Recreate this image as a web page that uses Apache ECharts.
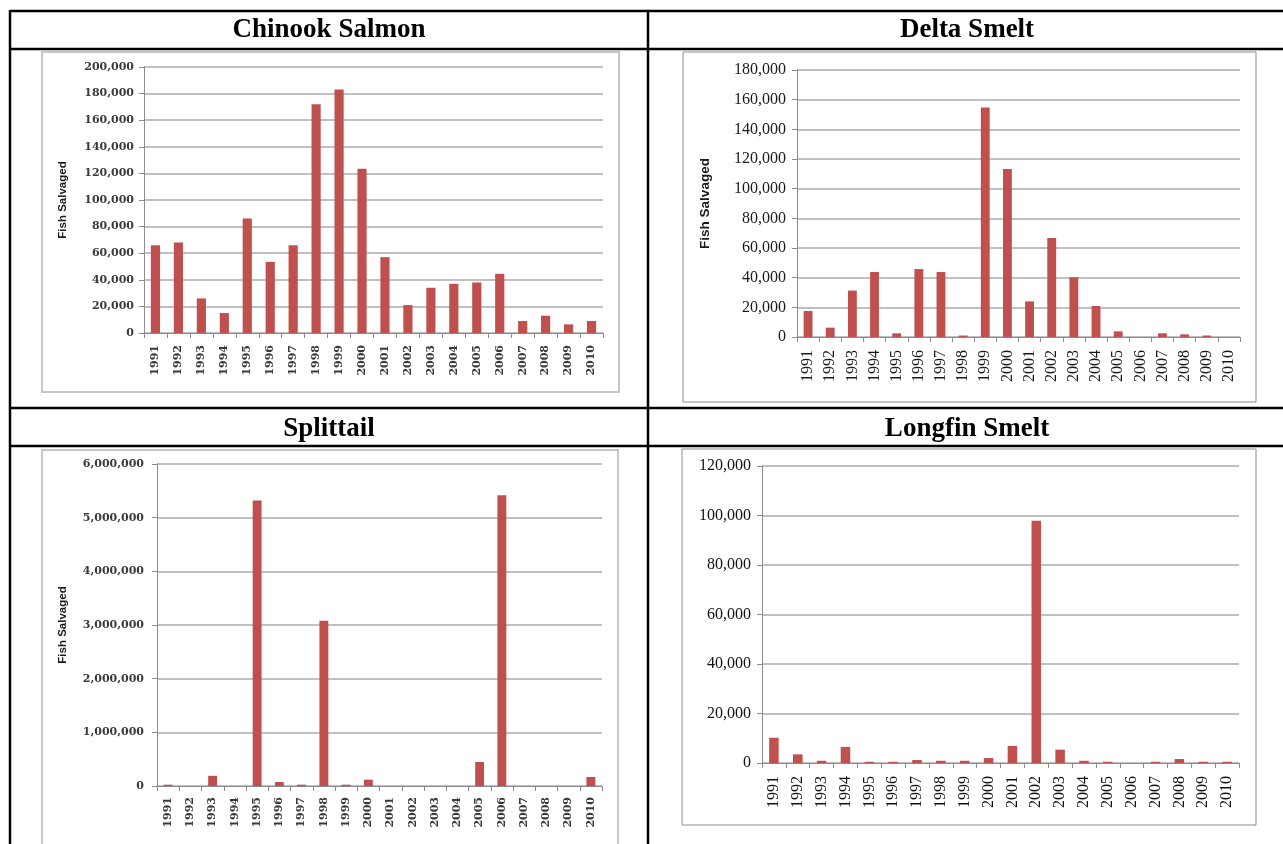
<!DOCTYPE html>
<html>
<head>
<meta charset="utf-8">
<title>Fish Salvaged, 1991–2010</title>
<script src="https://cdn.jsdelivr.net/npm/echarts@6/dist/echarts.min.js"></script>
<style>
  html, body { margin: 0; padding: 0; background: #ffffff; }
  #chart { width: 1283px; height: 844px; }
</style>
</head>
<body>
<div id="chart"></div>
<script>
// Salvage years shared by all four panels
const years = ['1991', '1992', '1993', '1994', '1995', '1996', '1997', '1998', '1999', '2000',
               '2001', '2002', '2003', '2004', '2005', '2006', '2007', '2008', '2009', '2010'];

// Fish salvaged per year, one list per species
const chinookSalvage    = [66000, 68000, 26000, 15000, 86000, 53500, 66000, 172000, 183000, 123500,
                           57000, 21000, 34000, 37000, 38000, 44500, 9000, 13000, 6500, 9000];
const deltaSmeltSalvage = [17500, 6300, 31300, 43800, 2500, 45800, 43800, 1000, 154800, 113200,
                           24000, 66800, 40300, 20900, 3800, 0, 2500, 1800, 1000, 0];
const splittailSalvage  = [25000, 0, 190000, 0, 5320000, 75000, 25000, 3080000, 25000, 118000,
                           0, 0, 0, 0, 448000, 5420000, 0, 0, 0, 168000];
const longfinSalvage    = [10200, 3500, 900, 6500, 500, 500, 1200, 900, 900, 2000,
                           6900, 97900, 5400, 900, 500, 0, 500, 1600, 500, 500];

// Panel titles and value-axis ranges
const speciesNames = ['Chinook Salmon', 'Delta Smelt', 'Splittail', 'Longfin Smelt'];
const speciesValues = [chinookSalvage, deltaSmeltSalvage, splittailSalvage, longfinSalvage];
const axisMax = [200000, 180000, 6000000, 120000];
const axisStep = [20000, 20000, 1000000, 20000];
const axisTitle = ['Fish Salvaged', 'Fish Salvaged', 'Fish Salvaged', ''];

// Page layout: table cells, chart frames and plot areas (pixels)
const layout = [
  { header: [329, 30],  frame: [42, 52, 577, 340],  frameColor: '#c6c6c6', frameWidth: 2,
    grid: { left: 144, top: 67, width: 459, height: 266 },
    font: { family: 'DejaVu Serif', size: 11, weight: 'bold', color: '#3a3a3a' },
    nameSize: 11.5, nameGap: 75, yMargin: 10, xMargin: 12 },
  { header: [967, 30],  frame: [683, 52, 573, 350], frameColor: '#8c8c8c', frameWidth: 1,
    grid: { left: 797, top: 70, width: 443, height: 267 },
    font: { family: 'Liberation Serif', size: 16, weight: 'normal', color: '#1a1a1a' },
    nameSize: 13.5, nameGap: 85, yMargin: 11, xMargin: 13 },
  { header: [329, 429], frame: [42, 450, 576, 410], frameColor: '#c6c6c6', frameWidth: 2,
    grid: { left: 157, top: 464, width: 445, height: 322 },
    font: { family: 'DejaVu Serif', size: 11, weight: 'bold', color: '#3a3a3a' },
    nameSize: 11.5, nameGap: 88, yMargin: 13, xMargin: 11 },
  { header: [967, 429], frame: [682, 449, 574, 376], frameColor: '#8c8c8c', frameWidth: 1,
    grid: { left: 762, top: 466, width: 477, height: 297 },
    font: { family: 'Liberation Serif', size: 16, weight: 'normal', color: '#111111' },
    nameSize: 12, nameGap: 80, yMargin: 11, xMargin: 13 }
];

const withCommas = v => Number(v).toLocaleString('en-US');

const grids = [], xAxes = [], yAxes = [], series = [], graphics = [];

// Table rules around the four cells
const rule = (x1, y1, x2, y2) => ({
  type: 'line', silent: true, z: 10,
  shape: { x1, y1, x2, y2 },
  style: { stroke: '#000000', lineWidth: 2.5 }
});
graphics.push(rule(10, 11, 1290, 11));
graphics.push(rule(10, 49, 1290, 49));
graphics.push(rule(10, 408, 1290, 408));
graphics.push(rule(10, 446, 1290, 446));
graphics.push(rule(10, 10, 10, 850));
graphics.push(rule(648, 10, 648, 850));

speciesNames.forEach((name, i) => {
  const L = layout[i];

  // Cell heading
  graphics.push({
    type: 'text', silent: true, z: 10,
    style: {
      text: name, x: L.header[0], y: L.header[1],
      textAlign: 'center', textVerticalAlign: 'middle',
      font: 'bold 27px "Liberation Serif", serif', fill: '#000000'
    }
  });

  // Chart frame
  graphics.push({
    type: 'rect', silent: true, z: 1,
    shape: { x: L.frame[0], y: L.frame[1], width: L.frame[2], height: L.frame[3] },
    style: { fill: 'transparent', stroke: L.frameColor, lineWidth: L.frameWidth }
  });

  grids.push(Object.assign({ containLabel: false }, L.grid));

  const labelStyle = {
    fontFamily: L.font.family, fontSize: L.font.size,
    fontWeight: L.font.weight, color: L.font.color
  };

  xAxes.push({
    type: 'category', gridIndex: i, data: years,
    axisLine: { show: true, lineStyle: { color: '#8c8c8c', width: 1 } },
    axisTick: { show: true, length: 5, lineStyle: { color: '#8c8c8c' } },
    axisLabel: Object.assign({ rotate: 90, margin: L.xMargin, interval: 0 }, labelStyle),
    splitLine: { show: false }
  });

  yAxes.push({
    type: 'value', gridIndex: i, min: 0, max: axisMax[i], interval: axisStep[i],
    name: axisTitle[i], nameLocation: 'middle', nameGap: L.nameGap, nameRotate: 90,
    nameTextStyle: {
      fontFamily: '"Liberation Sans", Arial, sans-serif', fontWeight: 'bold',
      fontSize: L.nameSize, color: '#1a1a1a'
    },
    axisLine: { show: true, lineStyle: { color: '#8c8c8c', width: 1 } },
    axisTick: { show: true, length: 5, lineStyle: { color: '#8c8c8c' } },
    axisLabel: Object.assign({ margin: L.yMargin, formatter: withCommas }, labelStyle),
    splitLine: { show: true, lineStyle: { color: '#ababab', width: 1.5 } }
  });

  series.push({
    type: 'bar', name: name, xAxisIndex: i, yAxisIndex: i,
    data: speciesValues[i], barWidth: '40%',
    itemStyle: { color: '#C0504D' }
  });
});

const chart = echarts.init(document.getElementById('chart'), null, { renderer: 'canvas' });
chart.setOption({
  animation: false,
  backgroundColor: '#ffffff',
  grid: grids,
  xAxis: xAxes,
  yAxis: yAxes,
  series: series,
  graphic: graphics
});
</script>
</body>
</html>
